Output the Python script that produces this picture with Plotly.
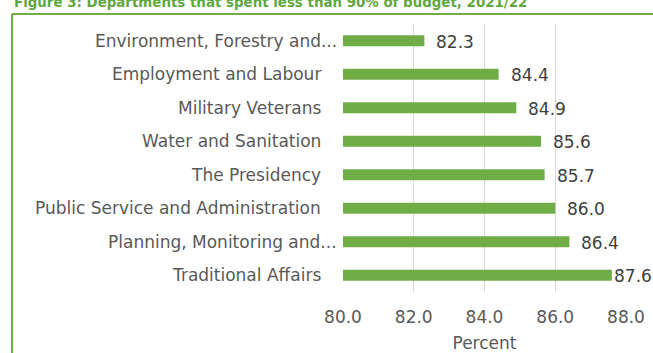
import plotly.graph_objects as go

# Departments and share of budget spent, 2021/22 (percent)
departments = [
    "Environment, Forestry and...",
    "Employment and Labour",
    "Military Veterans",
    "Water and Sanitation",
    "The Presidency",
    "Public Service and Administration",
    "Planning, Monitoring and...",
    "Traditional Affairs",
]
spent_pct = [82.3, 84.4, 84.9, 85.6, 85.7, 86.0, 86.4, 87.6]

x_ticks = [80.0, 82.0, 84.0, 86.0, 88.0]
title_text = "Figure 3: Departments that spent less than 90% of budget, 2021/22"
x_title = "Percent"

W, H = 653, 353
L, R, T, B = 343, 27, 24, 61
plot_w = W - L - R
plot_h = H - T - B

GREEN = "#70AD47"
LABEL = "#595959"
VALUE = "#404040"
FONT = "'DejaVu Sans', sans-serif"

x_min, x_max = x_ticks[0], x_ticks[-1]
px_per_unit = plot_w / (x_max - x_min)

fig = go.Figure()
fig.add_trace(go.Bar(
    x=[v - x_min for v in spent_pct],
    base=x_min,
    y=departments,
    orientation="h",
    marker=dict(color=GREEN, line=dict(width=0)),
    width=0.33,
    hoverinfo="skip",
))

annotations = []
# category labels to the left of the axis
for name in departments:
    truncated = name.endswith("...")
    annotations.append(dict(
        x=x_min, y=name, xref="x", yref="y",
        text=name, showarrow=False,
        xanchor="right", yanchor="middle",
        xshift=-4 if truncated else -20,
        font=dict(family=FONT, size=17, color=LABEL),
    ))

# value labels after each bar, kept inside the chart
for name, v in zip(departments, spent_pct):
    room = (x_max - v) * px_per_unit + R - 4 - 38
    shift = max(0, min(10, room))
    annotations.append(dict(
        x=v, y=name, xref="x", yref="y",
        text=f"{v:.1f}", showarrow=False,
        xanchor="left", yanchor="middle",
        xshift=shift, yshift=-1,
        font=dict(family=FONT, size=17, color=VALUE),
    ))

# figure caption, partly above the page edge
annotations.append(dict(
    x=(12 - L) / plot_w, y=1 + (T - 2) / plot_h,
    xref="paper", yref="paper",
    text=f"<b>{title_text}</b>", showarrow=False,
    xanchor="left", yanchor="middle",
    font=dict(family=FONT, size=13.4, color="#5FA83F"),
))

frame_x = (12 - L) / plot_w
frame_top = 1 + (T - 14) / plot_h
shapes = [
    dict(type="line", xref="paper", yref="paper",
         x0=frame_x, x1=frame_x, y0=-0.4, y1=frame_top,
         line=dict(color=GREEN, width=2)),
    dict(type="line", xref="paper", yref="paper",
         x0=frame_x, x1=(W + 5 - L) / plot_w, y0=frame_top, y1=frame_top,
         line=dict(color=GREEN, width=2)),
]

fig.update_layout(
    width=W, height=H,
    margin=dict(l=L, r=R, t=T, b=B, pad=0),
    paper_bgcolor="white", plot_bgcolor="white",
    showlegend=False,
    annotations=annotations,
    shapes=shapes,
    xaxis=dict(
        range=[x_min, x_max],
        tickvals=x_ticks,
        ticktext=[f"{t:.1f}" for t in x_ticks],
        showgrid=True, gridcolor="#D9D9D9", gridwidth=1,
        zeroline=False, showline=False, ticks="",
        automargin=False,
        ticklabelstandoff=13,
        tickfont=dict(family=FONT, size=17, color=LABEL),
        title=dict(text=x_title, standoff=14,
                   font=dict(family=FONT, size=17, color=LABEL)),
    ),
    yaxis=dict(
        categoryorder="array", categoryarray=departments,
        autorange="reversed", automargin=False,
        showticklabels=False, showgrid=False, zeroline=False,
        showline=False, ticks="",
    ),
)

fig.write_html("out.html")
